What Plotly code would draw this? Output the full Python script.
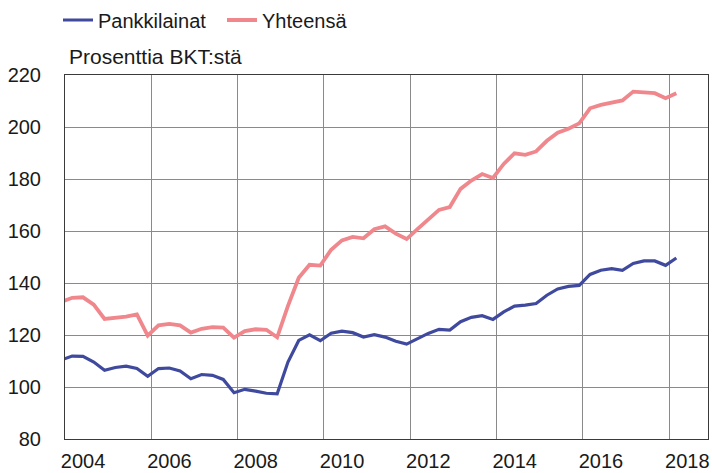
import plotly.graph_objects as go

# Quarterly observations (quarter-end months), Dec 2003 .. Mar 2018
quarters = (["2003Q4"] +
            [f"{y}Q{q}" for y in range(2004, 2018) for q in range(1, 5)] +
            ["2018Q1"])

pankkilainat = [
    110.4,
    111.9, 111.8, 109.6, 106.4,
    107.5, 108.0, 107.1, 104.1,
    107.1, 107.3, 106.2, 103.2,
    104.8, 104.5, 102.9, 97.8,
    99.1, 98.4, 97.6, 97.4,
    109.6, 117.9, 120.1, 117.8,
    120.7, 121.5, 120.9, 119.2,
    120.1, 119.2, 117.6, 116.5,
    118.7, 120.6, 122.2, 121.9,
    125.1, 126.8, 127.4, 126.0,
    128.9, 131.1, 131.5, 132.1,
    135.3, 137.7, 138.7, 139.1,
    143.3, 144.9, 145.5, 144.9,
    147.5, 148.5, 148.5, 146.8,
    149.6,
]

yhteensa = [
    132.8,
    134.3, 134.5, 131.7, 126.2,
    126.6, 127.1, 127.9, 119.8,
    123.7, 124.3, 123.7, 120.9,
    122.4, 123.0, 122.8, 119.0,
    121.5, 122.2, 122.0, 119.1,
    131.2, 142.0, 147.0, 146.7,
    152.8, 156.4, 157.7, 157.2,
    160.7, 161.8, 159.0, 156.9,
    160.7, 164.4, 168.1, 169.2,
    176.2, 179.4, 181.9, 180.4,
    185.8, 189.9, 189.3, 190.6,
    194.7, 197.8, 199.3, 201.4,
    207.2, 208.5, 209.4, 210.2,
    213.6, 213.4, 213.0, 211.1,
    213.0,
]

year_labels = ["2004", "2006", "2008", "2010", "2012", "2014", "2016", "2018"]
y_ticks = [80, 100, 120, 140, 160, 180, 200, 220]

series_names = ["Pankkilainat", "Yhteensä"]
y_title = "Prosenttia BKT:stä"


def q_to_x(q):
    yr = int(q[:4])
    qn = int(q[-1])
    return yr + (qn * 3 - 1) / 12.0


xs = [q_to_x(q) for q in quarters]
even_years = [int(s) for s in year_labels]
odd_years = [y + 1 for y in even_years[:-1]]

FONT = "Liberation Sans, Arial, sans-serif"
TXT = "#1a1a1a"
XR = [2004.0, 2018.9]

fig = go.Figure()
fig.add_trace(go.Scatter(x=xs, y=pankkilainat, mode="lines", name=series_names[0],
                         line=dict(color="#3F4A9E", width=3.2)))
fig.add_trace(go.Scatter(x=xs, y=yhteensa, mode="lines", name=series_names[1],
                         line=dict(color="#F0878C", width=3.8)))

fig.update_layout(
    width=712, height=473,
    margin=dict(l=65, r=4, t=75, b=34, autoexpand=False),
    paper_bgcolor="white", plot_bgcolor="white",
    font=dict(family=FONT, size=20, color=TXT),
    showlegend=True,
    legend=dict(orientation="h", xref="container", yref="container",
                x=58 / 712, xanchor="left", y=1 - 20 / 473, yanchor="middle",
                font=dict(size=20, color=TXT), bgcolor="rgba(0,0,0,0)",
                itemwidth=30, tracegroupgap=0,
                entrywidth=119, entrywidthmode="pixels"),
    xaxis=dict(
        range=XR, tickmode="array", automargin=False,
        tickvals=[y + 0.42 for y in even_years], ticktext=year_labels,
        ticks="", showgrid=False, zeroline=False,
        showline=True, mirror=True, linecolor="#3a3a3a", linewidth=1,
        ticklabelstandoff=4,
        tickfont=dict(size=20, color=TXT),
        minor=dict(tickmode="array", tickvals=even_years, ticks="",
                   showgrid=True, gridcolor="#8a8a8a", gridwidth=1),
    ),
    xaxis2=dict(
        range=XR, overlaying="x", anchor="y", side="bottom", automargin=False,
        tickmode="array", tickvals=odd_years, showticklabels=False,
        ticks="inside", ticklen=6, tickcolor="#3a3a3a", tickwidth=1,
        showgrid=False, showline=False, zeroline=False,
    ),
    yaxis=dict(
        range=[80, 220], tickmode="array", tickvals=y_ticks, automargin=False,
        ticks="", showgrid=True, gridcolor="#8a8a8a", gridwidth=1,
        zeroline=False, showline=True, mirror=True, linecolor="#3a3a3a", linewidth=1,
        ticklabelstandoff=19,
        tickfont=dict(size=20, color=TXT),
    ),
    annotations=[dict(
        text=y_title, xref="paper", yref="paper", x=0, y=1,
        xanchor="left", yanchor="bottom", xshift=2, yshift=5,
        showarrow=False, font=dict(size=21, color=TXT),
    )],
)

fig.write_html(
    "out.html",
    config={"displayModeBar": False},
    post_script="document.body.style.margin='0';document.body.style.overflow='hidden';",
)
